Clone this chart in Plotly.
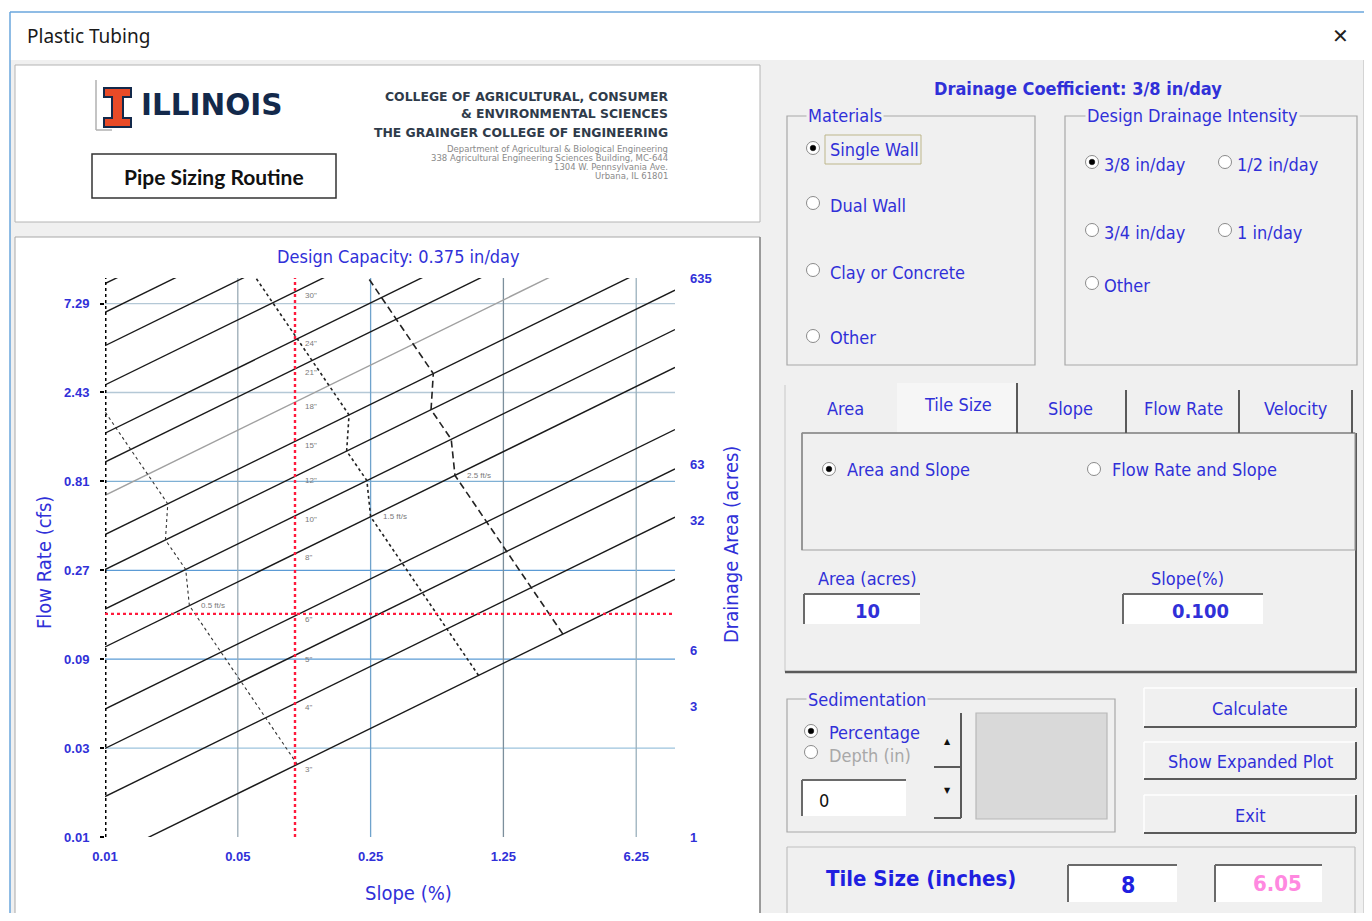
import math
import plotly.graph_objects as go

# ---------------- data ----------------
slope_ticks = [0.01, 0.05, 0.25, 1.25, 6.25]
slope_tick_text = ['0.01', '0.05', '0.25', '1.25', '6.25']
flow_ticks = [0.01, 0.03, 0.09, 0.27, 0.81, 2.43, 7.29]
flow_tick_text = ['0.01', '0.03', '0.09', '0.27', '0.81', '2.43', '7.29']
area_tick_values = [0.635, 3.175, 6.35, 31.75, 63.5, 635]
area_tick_text = ['1', '3', '6', '32', '63', '635']
slope_range = [0.01, 10]
flow_range = [0.01, 10]
area_range = [0.635, 635]

pipe_labels = ['3"', '4"', '5"', '6"', '8"', '10"', '12"', '15"', '18"', '21"', '24"', '30"', '', '', '']
pipe_q_min_slope = [0.00765, 0.01648, 0.02988, 0.0486, 0.1047, 0.1673, 0.2723, 0.4196,
                    0.6824, 1.029, 1.470, 2.666, 4.332, 6.546, 9.329]
pipe_q_max_slope = [0.242, 0.521, 0.945, 1.537, 3.31, 5.29, 8.61, 13.27,
                    21.58, 32.55, 46.5, 84.3, 137.0, 207.0, 295.0]
pipe_q_design_slope = [0.0242, 0.0521, 0.0945, 0.1537, 0.331, 0.529, 0.861, 1.327,
                       2.158, 3.255, 4.65, 8.43, 13.7, 20.7, 29.5]

vel_05_slope = [0.1028, 0.0701, 0.0521, 0.0408, 0.0278, 0.0266, 0.0208, 0.0214, 0.0168, 0.01365, 0.01141, 0.00847]
vel_05_flow = [0.02454, 0.04363, 0.06818, 0.09818, 0.1745, 0.2727, 0.3927, 0.6136, 0.8836, 1.2026, 1.5708, 2.454]
vel_15_slope = [0.925, 0.631, 0.468, 0.367, 0.250, 0.239, 0.187, 0.1925, 0.151, 0.123, 0.1027, 0.0763, 0.0599]
vel_15_flow = [0.0736, 0.1309, 0.2045, 0.2945, 0.5236, 0.8181, 1.178, 1.841, 2.651, 3.608, 4.712, 7.363, 10.60]
vel_25_slope = [2.57, 1.754, 1.301, 1.020, 0.695, 0.664, 0.520, 0.5345, 0.419, 0.341, 0.285, 0.212]
vel_25_flow = [0.1227, 0.2182, 0.3409, 0.4909, 0.8727, 1.3635, 1.9635, 3.068, 4.418, 6.013, 7.854, 12.27]
vel_labels = ['0.5 ft/s', '1.5 ft/s', '2.5 ft/s']

design_slope = 0.1
design_flow = 0.1575

# ---------------- helpers (pixel -> paper) ----------------
W, H = 1356, 905
OX, OY = 8, 8
def px(x): return (x - OX) / W
def py(y): return 1 - (y - OY) / H

BLUE = '#3030d8'
UI = "'DejaVu Sans Condensed', 'DejaVu Sans', sans-serif"
FS = 18
shapes = []
ann = []

def R(x0, y0, x1, y1, fill=None, line='#a0a0a0', w=1):
    shapes.append(dict(type='rect', xref='paper', yref='paper', x0=px(x0), x1=px(x1),
                       y0=py(y1), y1=py(y0), fillcolor=fill if fill else 'rgba(0,0,0,0)',
                       line=dict(color=line, width=w), layer='below'))

def L(x0, y0, x1, y1, color='#a0a0a0', w=1, dash='solid'):
    shapes.append(dict(type='line', xref='paper', yref='paper', x0=px(x0), x1=px(x1),
                       y0=py(y0), y1=py(y1), line=dict(color=color, width=w, dash=dash), layer='below'))

def C(cx, cy, r, fill='white', line='#9a9a9a', w=1):
    shapes.append(dict(type='circle', xref='paper', yref='paper', x0=px(cx - r), x1=px(cx + r),
                       y0=py(cy + r), y1=py(cy - r), fillcolor=fill, line=dict(color=line, width=w), layer='below'))

def T(x, y, s, size=FS, color=BLUE, anchor='left', bold=False, family=UI, bg=None, angle=0):
    d = dict(xref='paper', yref='paper', x=px(x), y=py(y), text=('<b>%s</b>' % s) if bold else s,
             showarrow=False, xanchor=anchor, yanchor='middle',
             font=dict(size=size, color=color, family=family), textangle=angle)
    if bg:
        d['bgcolor'] = bg
    ann.append(d)

def radio(cx, cy, sel=False):
    C(cx, cy, 6.5, 'white', '#8a8a8a', 1)
    if sel:
        C(cx, cy, 2.8, 'black', 'black', 0.5)

def textbox(x0, y0, x1, y1):
    R(x0, y0, x1, y1, 'white', 'white', 0)
    L(x0, y0, x1, y0, '#6a6a6a', 2)
    L(x0, y0, x0, y1, '#6a6a6a', 2)

def button(x0, y0, x1, y1, label):
    R(x0, y0, x1, y1, '#f0f0f0', '#f0f0f0', 0)
    L(x0, y0, x1, y0, 'white', 1.5)
    L(x0, y0, x0, y1, 'white', 1.5)
    L(x0, y1, x1, y1, '#5a5a5a', 2)
    L(x1, y0, x1, y1, '#5a5a5a', 2)
    T((x0 + x1) / 2, (y0 + y1) / 2 + 1, label, FS, anchor='center')

# ---------------- window chrome ----------------
R(10, 12, 1367, 60, 'white', 'white', 0)
R(10, 60, 1367, 921, '#f0f0f0', '#f0f0f0', 0)
L(10, 12, 1367, 12, '#6aa6dc', 1.5)
L(10, 12, 10, 921, '#6aa6dc', 1.5)
L(1367, 12, 1367, 921, '#6aa6dc', 1.5)
L(1364, 60, 1364, 921, '#b8b8b8', 1)
T(25, 36, 'Plastic Tubing', 19, '#1a1a1a', family="'Noto Sans', 'Open Sans', sans-serif")
T(1340, 36, '✕', 20, '#222222', anchor='center', family="'DejaVu Sans', sans-serif")

# ---------------- logo panel ----------------
R(15, 65, 760, 222, 'white', '#b4b4b4', 1)
L(96, 80, 96, 130, '#b0b0b0', 1.5)
L(96, 130, 112, 130, '#b0b0b0', 1.5)
pts = [(104, 88), (131, 88), (131, 97), (123, 97), (123, 118), (131, 118), (131, 127),
       (104, 127), (104, 118), (112, 118), (112, 97), (104, 97)]
path = 'M ' + ' L '.join('%f,%f' % (px(a), py(b)) for a, b in pts) + ' Z'
shapes.append(dict(type='path', xref='paper', yref='paper', path=path, fillcolor='#e84a27',
                   line=dict(color='#13294b', width=2), layer='below'))
T(139, 105, 'ILLINOIS', 29.5, '#13294b', bold=True, family="'DejaVu Sans', sans-serif")
R(92, 154, 336, 198, 'white', '#333333', 1.5)
T(214, 177, 'Pipe Sizing Routine', 21, '#111111', anchor='center', bold=True, family="Lato, 'Open Sans', sans-serif")
capf = "'DejaVu Sans', sans-serif"
T(670, 96, 'COLLEGE OF AGRICULTURAL, CONSUMER', 12.4, '#2f3b4a', anchor='right', bold=True, family=capf)
T(670, 113, '&amp; ENVIRONMENTAL SCIENCES', 12.4, '#2f3b4a', anchor='right', bold=True, family=capf)
T(670, 133, 'THE GRAINGER COLLEGE OF ENGINEERING', 12.4, '#2f3b4a', anchor='right', bold=True, family=capf)
T(670, 149, 'Department of Agricultural &amp; Biological Engineering', 8.5, '#8a8a8a', anchor='right', family=capf)
T(670, 158, '338 Agricultural Engineering Sciences Building, MC-644', 8.5, '#8a8a8a', anchor='right', family=capf)
T(670, 167, '1304 W. Pennsylvania Ave.', 8.5, '#8a8a8a', anchor='right', family=capf)
T(670, 176, 'Urbana, IL 61801', 8.5, '#8a8a8a', anchor='right', family=capf)

# ---------------- chart panel ----------------
R(15, 237, 760, 917, 'white', '#a8a8a8', 1)
L(760, 237, 760, 917, '#8a8a8a', 1.5)
T(398, 257, 'Design Capacity: 0.375 in/day', 18, BLUE, anchor='center')
T(44, 563, 'Flow Rate (cfs)', 20, BLUE, anchor='center', angle=-90)
T(408, 893, 'Slope (%)', 20, BLUE, anchor='center')
T(731, 545, 'Drainage Area (acres)', 20, BLUE, anchor='center', angle=-90)

# ---------------- right side controls ----------------
T(1078, 88, 'Drainage Coefficient: 3/8 in/day', 18, BLUE, anchor='center', bold=True)

R(787, 116, 1035, 365, None, '#a8a8a8', 1.2)
T(806, 116, 'Materials', FS, BLUE, bg='#f0f0f0')
mat = ['Single Wall', 'Dual Wall', 'Clay or Concrete', 'Other']
mat_y = [148, 203, 270, 336]
for i, (m, yy) in enumerate(zip(mat, mat_y)):
    radio(813, yy, i == 0)
    T(828, yy + 2, m, FS)
R(825, 135, 921, 164, None, '#bdb68a', 1)

R(1065, 116, 1357, 365, None, '#a8a8a8', 1.2)
T(1085, 116, 'Design Drainage Intensity', FS, BLUE, bg='#f0f0f0')
intens = [('3/8 in/day', 1092, 162, True), ('1/2 in/day', 1225, 162, False),
          ('3/4 in/day', 1092, 230, False), ('1 in/day', 1225, 230, False),
          ('Other', 1092, 283, False)]
for lab, cx, cy, sel in intens:
    radio(cx, cy, sel)
    T(cx + 10, cy + 2, lab, FS)

# tab control
L(785, 385, 785, 672, '#c8c8c8', 1)
R(897, 383, 1017, 433, '#f6f6f6', '#f6f6f6', 0)
L(785, 672, 1357, 672, '#5a5a5a', 2.5)
L(1356, 433, 1356, 672, '#5a5a5a', 2)
R(802, 433, 1355, 550, None, '#a0a0a0', 1.2)
L(802, 433, 1355, 433, '#8a8a8a', 1.5)
L(802, 433, 802, 550, '#8a8a8a', 1.5)
for xx, y0 in [(1017, 383), (1126, 390), (1239, 390), (1352, 390)]:
    L(xx, y0, xx, 433, '#5a5a5a', 2)
tabs = [('Area', 845, 408), ('Tile Size', 958, 405), ('Slope', 1070, 408),
        ('Flow Rate', 1183, 408), ('Velocity', 1296, 408)]
for lab, xx, yy in tabs:
    T(xx, yy, lab, FS, anchor='center')
radio(829, 469, True)
T(845, 470, 'Area and Slope', FS)
radio(1094, 469, False)
T(1110, 470, 'Flow Rate and Slope', FS)
T(868, 578, 'Area (acres)', FS, anchor='center')
textbox(804, 594, 920, 624)
T(868, 611, '10', 20, anchor='center', bold=True)
T(1187, 578, 'Slope(%)', FS, anchor='center')
textbox(1123, 594, 1263, 624)
T(1200, 611, '0.100', 20, anchor='center', bold=True)

# sedimentation
R(787, 699, 1115, 832, None, '#a8a8a8', 1.2)
T(806, 699, 'Sedimentation', FS, BLUE, bg='#f0f0f0')
radio(811, 731, True)
T(827, 732, 'Percentage', FS)
radio(811, 752, False)
T(827, 755, 'Depth (in)', FS, '#a8a8a8')
textbox(802, 780, 906, 816)
T(817, 800, '0', FS, '#111111')
L(961, 713, 961, 818, '#5a5a5a', 2)
L(934, 767, 961, 767, '#5a5a5a', 2)
L(934, 818, 961, 818, '#5a5a5a', 2)
T(947, 741, '▲', 8, '#111111', anchor='center', family="'DejaVu Sans', sans-serif")
T(947, 790, '▼', 8, '#111111', anchor='center', family="'DejaVu Sans', sans-serif")
R(976, 713, 1107, 819, '#d9d9d9', '#b8b8b8', 1.2)

button(1144, 688, 1356, 727, 'Calculate')
button(1144, 742, 1356, 779, 'Show Expanded Plot')
button(1144, 795, 1356, 833, 'Exit')

L(787, 847, 1355, 847, '#c0c0c0', 1.2)
L(787, 847, 787, 921, '#c0c0c0', 1.2)
L(1355, 847, 1355, 921, '#c0c0c0', 1.2)
T(921, 878, 'Tile Size (inches)', 22, '#1f1fe0', anchor='center', bold=True)
textbox(1068, 865, 1177, 902)
T(1128, 885, '8', 23, '#1f1fe0', anchor='center', bold=True)
textbox(1215, 865, 1322, 902)
T(1277, 883, '6.05', 22, '#ff88e0', anchor='center', bold=True)

# ---------------- chart traces ----------------
fig = go.Figure()
hgrid_colors = ['#9cc3dd', '#5b9bd5', '#5b9bd5', '#7fb0d4', '#b4c8d6', '#b4c8d6']
for g, col in zip(flow_ticks[1:], hgrid_colors):
    fig.add_trace(go.Scatter(x=slope_range, y=[g, g], mode='lines',
                             line=dict(color=col, width=1.3), hoverinfo='skip'))
vgrid_colors = ['#9aabb5', '#6fa3cc', '#7c8f9c', '#9ab0bd']
for g, col in zip(slope_ticks[1:], vgrid_colors):
    fig.add_trace(go.Scatter(x=[g, g], y=flow_range, mode='lines',
                             line=dict(color=col, width=1.3), hoverinfo='skip'))

for lab, q0, q1 in zip(pipe_labels, pipe_q_min_slope, pipe_q_max_slope):
    col = '#a0a0a0' if lab == '18"' else '#1a1a1a'
    fig.add_trace(go.Scatter(x=slope_range, y=[q0, q1], mode='lines',
                             line=dict(color=col, width=1.4), hoverinfo='skip'))

fig.add_trace(go.Scatter(x=vel_05_slope, y=vel_05_flow, mode='lines',
                         line=dict(color='#333333', width=1.1, dash='dot'), hoverinfo='skip'))
fig.add_trace(go.Scatter(x=vel_15_slope, y=vel_15_flow, mode='lines',
                         line=dict(color='#222222', width=1.6, dash='3px,3px'), hoverinfo='skip'))
fig.add_trace(go.Scatter(x=vel_25_slope, y=vel_25_flow, mode='lines',
                         line=dict(color='#222222', width=1.6, dash='7px,4px'), hoverinfo='skip'))

fig.add_trace(go.Scatter(x=[slope_range[0], slope_range[0]], y=flow_range, mode='lines',
                         line=dict(color='black', width=3, dash='dot'), hoverinfo='skip'))
fig.add_trace(go.Scatter(x=[design_slope, design_slope], y=flow_range, mode='lines',
                         line=dict(color='#ff1a3c', width=2.4, dash='dot'), hoverinfo='skip'))
fig.add_trace(go.Scatter(x=slope_range, y=[design_flow, design_flow], mode='lines',
                         line=dict(color='#ff1a3c', width=2.4, dash='dot'), hoverinfo='skip'))
fig.add_trace(go.Scatter(x=slope_range, y=area_range, yaxis='y2', mode='lines',
                         line=dict(color='rgba(0,0,0,0)', width=0), hoverinfo='skip'))

for lab, q in zip(pipe_labels, pipe_q_design_slope):
    if lab:
        ann.append(dict(xref='x', yref='y', x=math.log10(design_slope), y=math.log10(q), text=lab,
                        showarrow=False, xanchor='left', yanchor='middle', xshift=8, yshift=-4,
                        font=dict(size=8, color='#7a7a7a', family="'Liberation Sans', Arial, sans-serif")))
for lab, sl, fl in zip(vel_labels, [vel_05_slope, vel_15_slope, vel_25_slope],
                       [vel_05_flow, vel_15_flow, vel_25_flow]):
    ann.append(dict(xref='x', yref='y', x=math.log10(sl[4]), y=math.log10(fl[4]), text=lab,
                    showarrow=False, xanchor='left', yanchor='middle', xshift=10, yshift=0,
                    font=dict(size=8, color='#7a7a7a', family="'Liberation Sans', Arial, sans-serif")))

tickfont = dict(family="'Liberation Sans', Arial, sans-serif", size=13, color=BLUE, weight='bold')
fig.update_layout(
    width=W, height=H, margin=dict(l=0, r=0, t=0, b=0, pad=0, autoexpand=False),
    paper_bgcolor='white', plot_bgcolor='rgba(0,0,0,0)', showlegend=False, hovermode=False,
    xaxis=dict(type='log', range=[math.log10(slope_range[0]), math.log10(slope_range[1])],
               domain=[px(105), px(675)], tickvals=slope_ticks, ticktext=slope_tick_text,
               showgrid=False, zeroline=False, showline=False, ticks='', tickfont=tickfont,
               ticklabelstandoff=10, fixedrange=True, automargin=False),
    yaxis=dict(type='log', range=[math.log10(flow_range[0]), math.log10(flow_range[1])],
               domain=[py(837), py(278)], tickvals=flow_ticks, ticktext=flow_tick_text,
               showgrid=False, zeroline=False, showline=False, ticks='outside', ticklen=4,
               tickcolor='black', tickwidth=1.5, tickfont=tickfont, ticklabelstandoff=8,
               fixedrange=True, automargin=False),
    yaxis2=dict(type='log', range=[math.log10(area_range[0]), math.log10(area_range[1])],
                overlaying='y', side='right', anchor='x', tickvals=area_tick_values,
                ticktext=area_tick_text, showgrid=False, zeroline=False, showline=False, ticks='',
                tickfont=tickfont, ticklabelstandoff=14, fixedrange=True, automargin=False),
    shapes=shapes, annotations=ann,
)
fig.write_html("out.html")
